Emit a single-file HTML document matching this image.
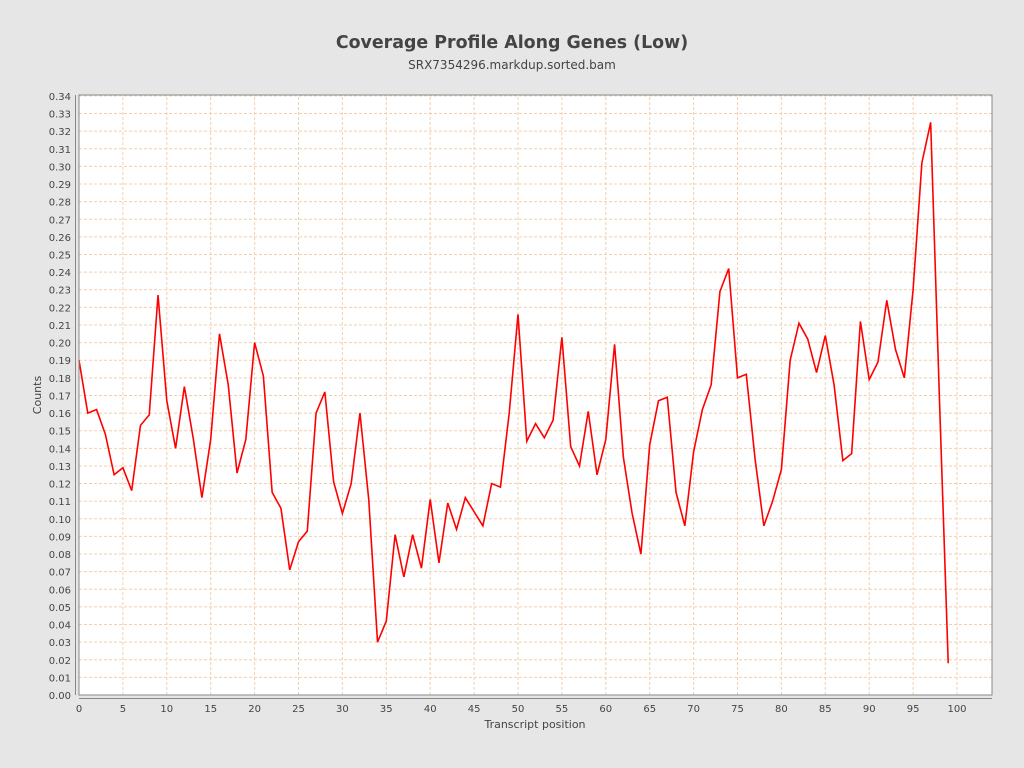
<!DOCTYPE html>
<html><head><style>body{margin:0;background:#e6e6e6;}svg{display:block;font-family:"DejaVu Sans","Liberation Sans",sans-serif;}</style></head>
<body>
<svg width="1024" height="768" xmlns="http://www.w3.org/2000/svg">
<rect width="1024" height="768" fill="#e6e6e6"/>
<text x="512" y="48" text-anchor="middle" font-size="17.4" font-weight="bold" fill="#444">Coverage Profile Along Genes (Low)</text>
<text x="512" y="69" text-anchor="middle" font-size="12" fill="#444">SRX7354296.markdup.sorted.bam</text>
<rect x="79" y="95" width="913" height="600" fill="#fff"/>
<g transform="translate(79,695) scale(8.78,-1762)" stroke="#f2cfae" stroke-width="1" stroke-dasharray="3,2" fill="none">
<path vector-effect="non-scaling-stroke" d="M0,0.01H104M0,0.02H104M0,0.03H104M0,0.04H104M0,0.05H104M0,0.06H104M0,0.07H104M0,0.08H104M0,0.09H104M0,0.10H104M0,0.11H104M0,0.12H104M0,0.13H104M0,0.14H104M0,0.15H104M0,0.16H104M0,0.17H104M0,0.18H104M0,0.19H104M0,0.20H104M0,0.21H104M0,0.22H104M0,0.23H104M0,0.24H104M0,0.25H104M0,0.26H104M0,0.27H104M0,0.28H104M0,0.29H104M0,0.30H104M0,0.31H104M0,0.32H104M0,0.33H104M0,0.34H104"/>
<path vector-effect="non-scaling-stroke" d="M5,0V0.3405M10,0V0.3405M15,0V0.3405M20,0V0.3405M25,0V0.3405M30,0V0.3405M35,0V0.3405M40,0V0.3405M45,0V0.3405M50,0V0.3405M55,0V0.3405M60,0V0.3405M65,0V0.3405M70,0V0.3405M75,0V0.3405M80,0V0.3405M85,0V0.3405M90,0V0.3405M95,0V0.3405M100,0V0.3405"/>
<polyline vector-effect="non-scaling-stroke" stroke="#ff0000" stroke-width="1.6" stroke-dasharray="none" points="0,0.190 1,0.160 2,0.162 3,0.148 4,0.125 5,0.129 6,0.116 7,0.153 8,0.159 9,0.227 10,0.167 11,0.140 12,0.175 13,0.146 14,0.112 15,0.145 16,0.205 17,0.176 18,0.126 19,0.145 20,0.200 21,0.181 22,0.115 23,0.106 24,0.071 25,0.087 26,0.093 27,0.160 28,0.172 29,0.121 30,0.103 31,0.120 32,0.160 33,0.111 34,0.030 35,0.042 36,0.091 37,0.067 38,0.091 39,0.072 40,0.111 41,0.075 42,0.109 43,0.094 44,0.112 45,0.104 46,0.096 47,0.120 48,0.118 49,0.160 50,0.216 51,0.144 52,0.154 53,0.146 54,0.156 55,0.203 56,0.141 57,0.130 58,0.161 59,0.125 60,0.145 61,0.199 62,0.135 63,0.103 64,0.080 65,0.142 66,0.167 67,0.169 68,0.115 69,0.096 70,0.138 71,0.162 72,0.176 73,0.229 74,0.242 75,0.180 76,0.182 77,0.134 78,0.096 79,0.110 80,0.128 81,0.190 82,0.211 83,0.202 84,0.183 85,0.204 86,0.176 87,0.133 88,0.137 89,0.212 90,0.179 91,0.189 92,0.224 93,0.196 94,0.180 95,0.230 96,0.302 97,0.325 98,0.168 99,0.018"/>
</g>
<rect x="79" y="95" width="913" height="600" fill="none" stroke="#888" stroke-width="1"/>
<line x1="75.5" y1="95" x2="75.5" y2="695" stroke="#888"/>
<line x1="79" y1="698.5" x2="992" y2="698.5" stroke="#888"/>
<g font-size="10" fill="#444" text-anchor="end">
<text x="71" y="699">0.00</text><text x="71" y="681.4">0.01</text><text x="71" y="663.8">0.02</text><text x="71" y="646.1">0.03</text><text x="71" y="628.5">0.04</text><text x="71" y="610.9">0.05</text><text x="71" y="593.3">0.06</text><text x="71" y="575.7">0.07</text><text x="71" y="558">0.08</text><text x="71" y="540.4">0.09</text><text x="71" y="522.8">0.10</text><text x="71" y="505.2">0.11</text><text x="71" y="487.6">0.12</text><text x="71" y="469.9">0.13</text><text x="71" y="452.3">0.14</text><text x="71" y="434.7">0.15</text><text x="71" y="417.1">0.16</text><text x="71" y="399.5">0.17</text><text x="71" y="381.8">0.18</text><text x="71" y="364.2">0.19</text><text x="71" y="346.6">0.20</text><text x="71" y="329">0.21</text><text x="71" y="311.4">0.22</text><text x="71" y="293.7">0.23</text><text x="71" y="276.1">0.24</text><text x="71" y="258.5">0.25</text><text x="71" y="240.9">0.26</text><text x="71" y="223.3">0.27</text><text x="71" y="205.6">0.28</text><text x="71" y="188">0.29</text><text x="71" y="170.4">0.30</text><text x="71" y="152.8">0.31</text><text x="71" y="135.2">0.32</text><text x="71" y="117.5">0.33</text><text x="71" y="99.9">0.34</text>
</g>
<g font-size="10" fill="#444" text-anchor="middle">
<text x="79" y="712">0</text><text x="122.9" y="712">5</text><text x="166.8" y="712">10</text><text x="210.7" y="712">15</text><text x="254.6" y="712">20</text><text x="298.5" y="712">25</text><text x="342.4" y="712">30</text><text x="386.3" y="712">35</text><text x="430.2" y="712">40</text><text x="474.1" y="712">45</text><text x="518" y="712">50</text><text x="561.9" y="712">55</text><text x="605.8" y="712">60</text><text x="649.7" y="712">65</text><text x="693.6" y="712">70</text><text x="737.5" y="712">75</text><text x="781.4" y="712">80</text><text x="825.3" y="712">85</text><text x="869.2" y="712">90</text><text x="913.1" y="712">95</text><text x="957" y="712">100</text>
</g>
<text x="535" y="728" text-anchor="middle" font-size="11" fill="#444">Transcript position</text>
<text transform="translate(41,395) rotate(-90)" text-anchor="middle" font-size="11" fill="#444">Counts</text>
</svg>
</body></html>
